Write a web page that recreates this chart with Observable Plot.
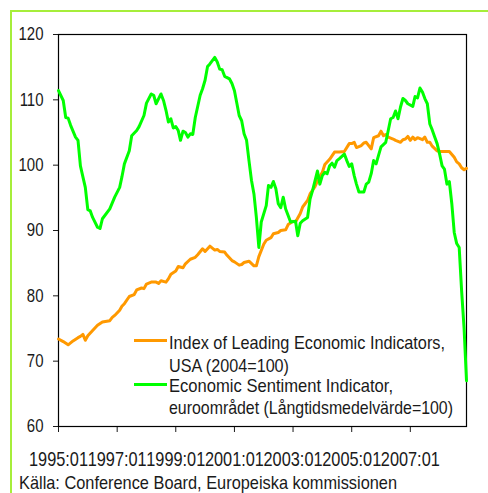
<!DOCTYPE html>
<html>
<head>
<meta charset="utf-8">
<script src="https://cdn.jsdelivr.net/npm/d3@7"></script>
<script src="https://cdn.jsdelivr.net/npm/@observablehq/plot@0.6"></script>
<style>
  html, body { margin: 0; padding: 0; background: #fff; width: 488px; height: 493px; overflow: hidden; }
  #wrap { position: relative; width: 488px; height: 493px; font-family: "Liberation Sans", Arial, sans-serif; color: #1a1a1a; }
  #border { position: absolute; left: 10px; top: 10px; width: 600px; height: 600px; border: 2px solid #a6ee3a; }
  #chart { position: absolute; left: 0; top: 0; }
  #legend { position: absolute; left: 0; top: 0; width: 488px; height: 470px; pointer-events: none; }
  .lg { position: absolute; font-size: 18.5px; white-space: nowrap; line-height: 20px; transform-origin: 0 50%; }
  .sw { position: absolute; height: 3px; width: 33px; }
  #caption { position: absolute; left: 19px; top: 472px; font-size: 18.5px; line-height: 21px; white-space: nowrap; transform-origin: 0 50%; }
</style>
</head>
<body>
<div id="wrap">
  <div id="border"></div>
  <div id="chart"></div>
  <div id="legend"></div>
  <div id="caption"></div>
</div>
<script>
// Index of Leading Economic Indicators, USA (2004=100)
const leiMonths = ["1995-01","1995-03","1995-05","1995-07","1995-09","1995-10","1995-11","1995-12","1996-01","1996-03","1996-05","1996-07","1996-10","1996-11","1996-12","1997-02","1997-03","1997-04","1997-06","1997-08","1997-09","1997-11","1997-12","1998-01","1998-03","1998-05","1998-06","1998-07","1998-09","1998-10","1998-11","1999-01","1999-02","1999-04","1999-05","1999-07","1999-09","1999-10","1999-12","2000-01","2000-03","2000-05","2000-06","2000-07","2000-09","2000-10","2000-12","2001-01","2001-03","2001-04","2001-05","2001-07","2001-09","2001-10","2001-11","2002-01","2002-02","2002-04","2002-05","2002-07","2002-08","2002-10","2002-11","2003-01","2003-02","2003-04","2003-05","2003-07","2003-08","2003-10","2003-11","2004-01","2004-02","2004-04","2004-06","2004-08","2004-10","2004-12","2005-01","2005-02","2005-03","2005-05","2005-06","2005-07","2005-09","2005-10","2005-12","2006-01","2006-02","2006-03","2006-04","2006-06","2006-07","2006-09","2006-10","2006-11","2006-12","2007-01","2007-02","2007-03","2007-04","2007-06","2007-07","2007-08","2007-09","2007-10","2007-12","2008-01","2008-05","2008-07","2008-08","2008-09","2008-10","2008-11","2008-12"];
const leiValues = [73.4,73.0,72.5,73.1,73.6,73.8,74.1,73.2,73.9,74.7,75.5,76.0,76.2,76.7,77.0,77.8,78.4,78.8,79.9,80.2,80.9,81.2,81.1,81.8,82.1,82.1,81.9,82.3,82.1,82.6,83.3,83.8,84.5,84.3,84.9,85.6,85.9,86.3,87.2,86.8,87.6,87.0,87.1,86.8,86.7,86.2,85.4,85.2,84.7,84.8,85.1,85.3,84.6,84.6,86.0,87.9,88.5,88.9,89.5,89.7,90.0,90.1,90.9,91.4,91.3,92.6,93.6,94.6,95.6,96.7,97.6,98.9,100.1,100.9,102.0,102.0,102.1,103.3,103.3,103.5,102.7,103.0,103.4,103.5,102.5,104.2,104.5,105.2,104.5,104.7,104.3,104.0,103.8,103.5,103.9,104.0,104.4,103.8,104.3,103.9,104.2,103.9,104.3,103.5,103.5,102.9,102.2,102.1,102.1,101.2,100.5,100.2,99.6,99.3,99.5];

// Economic Sentiment Indicator, euro area (long-term average = 100)
const esiMonths = ["1995-01","1995-03","1995-04","1995-05","1995-06","1995-08","1995-09","1995-10","1995-11","1995-12","1996-01","1996-02","1996-03","1996-05","1996-06","1996-07","1996-10","1996-12","1997-02","1997-03","1997-04","1997-06","1997-07","1997-09","1997-10","1997-12","1998-01","1998-03","1998-04","1998-05","1998-07","1998-08","1998-09","1998-10","1998-11","1998-12","1999-01","1999-02","1999-03","1999-04","1999-05","1999-06","1999-07","1999-08","1999-09","1999-11","1999-12","2000-01","2000-02","2000-03","2000-05","2000-06","2000-07","2000-08","2000-09","2000-11","2000-12","2001-01","2001-02","2001-03","2001-04","2001-05","2001-06","2001-07","2001-08","2001-09","2001-10","2001-11","2001-12","2002-02","2002-03","2002-04","2002-05","2002-06","2002-07","2002-08","2002-09","2002-10","2002-11","2002-12","2003-02","2003-03","2003-04","2003-05","2003-07","2003-08","2003-09","2003-11","2003-12","2004-01","2004-02","2004-03","2004-04","2004-05","2004-06","2004-07","2004-08","2004-10","2004-11","2004-12","2005-01","2005-02","2005-03","2005-04","2005-06","2005-07","2005-08","2005-09","2005-10","2005-11","2005-12","2006-01","2006-03","2006-04","2006-05","2006-06","2006-07","2006-08","2006-09","2006-10","2006-11","2006-12","2007-02","2007-03","2007-04","2007-05","2007-06","2007-07","2007-08","2007-09","2007-10","2007-11","2007-12","2008-01","2008-02","2008-03","2008-04","2008-05","2008-06","2008-07","2008-08","2008-09","2008-10","2008-11","2008-12"];
const esiValues = [111.4,109.9,107.3,107.2,106.1,104.3,103.8,99.9,98.2,96.6,93.2,93.0,92.0,90.5,90.3,91.8,93.3,95.1,96.6,98.2,100.2,102.2,104.5,105.3,105.9,107.6,109.5,110.9,110.7,109.4,110.9,109.9,108.4,106.6,107.1,105.7,105.9,105.3,103.8,105.2,105.0,104.3,104.8,104.7,107.3,110.7,111.7,113.0,115.1,115.5,116.5,115.8,114.7,114.6,113.6,113.2,112.5,111.4,109.4,107.6,106.8,104.8,103.8,100.7,97.7,95.6,92.0,87.4,91.3,93.8,96.9,96.6,97.5,96.4,94.1,93.5,95.1,93.3,92.3,91.3,91.4,89.2,91.1,91.5,92.0,94.8,96.1,99.1,97.1,98.4,98.9,98.7,99.9,100.3,99.7,100.7,101.0,101.7,100.7,99.8,100.2,98.4,97.1,95.9,95.9,97.1,97.4,98.7,100.7,100.2,101.5,102.8,103.5,105.3,107.1,107.3,108.3,107.1,108.9,110.2,109.9,109.4,109.0,110.5,110.3,111.8,111.2,110.2,109.4,106.3,105.4,104.3,103.3,101.7,99.9,99.4,97.1,97.5,94.1,89.7,88.0,87.4,80.8,75.0,67.0];

const xTickMonths = ["1995-01","1997-01","1999-01","2001-01","2003-01","2005-01","2007-01"];
const yTickValues = [60,70,80,90,100,110,120];
const seriesNames = ["Index of Leading Economic Indicators,\nUSA (2004=100)", "Economic Sentiment Indicator,\neuroområdet (Långtidsmedelvärde=100)"];
const seriesColors = ["#ff9900", "#00ff00"];
const captionText = "Källa: Conference Board, Europeiska kommissionen";

const parseMonth = d3.utcParse("%Y-%m");
const lei = leiMonths.map((m, i) => ({date: parseMonth(m), value: leiValues[i]}));
const esi = esiMonths.map((m, i) => ({date: parseMonth(m), value: esiValues[i]}));

const FONT = '"Liberation Sans", Arial, sans-serif';

const chart = Plot.plot({
  width: 488,
  height: 470,
  marginLeft: 58,
  marginRight: 22,
  marginTop: 34,
  marginBottom: 44,
  style: {fontFamily: FONT, fontSize: "18px", color: "#1a1a1a", background: "transparent", overflow: "visible"},
  x: {
    type: "utc",
    domain: [parseMonth("1995-01"), parseMonth("2008-12")],
    ticks: xTickMonths.map(parseMonth),
    tickFormat: d3.utcFormat("%Y:%m"),
    tickSize: 6,
    tickPadding: 19,
    label: null
  },
  y: {
    domain: [60, 120],
    ticks: yTickValues,
    tickSize: 5,
    tickPadding: 10,
    label: null
  },
  marks: [
    Plot.frame({stroke: "#000", strokeWidth: 1.2}),
    Plot.line(lei, {x: "date", y: "value", stroke: seriesColors[0], strokeWidth: 3, strokeLinejoin: "round"}),
    Plot.line(esi, {x: "date", y: "value", stroke: seriesColors[1], strokeWidth: 3, strokeLinejoin: "round"})
  ]
});
document.getElementById("chart").appendChild(chart);

// Condense the axis tick labels horizontally (the reference uses a narrow face)
(function condenseAxisText() {
  const texts = Array.from(chart.querySelectorAll("text"));
  const xs = [], ys = [];
  texts.forEach(t => {
    const r = t.getBoundingClientRect();
    if (r.top > 440) { xs.push(t); t.style.fontSize = "20px"; } else ys.push(t);
  });
  function fit(group, sampleText, targetWidth) {
    const sample = group.find(t => t.textContent === sampleText) || group[0];
    if (!sample) return;
    const k = targetWidth / sample.getBBox().width;
    group.forEach(t => {
      const bb = t.getBBox();
      const anchor = getComputedStyle(t).textAnchor || "start";
      const ax = anchor === "end" ? bb.x + bb.width : anchor === "middle" ? bb.x + bb.width / 2 : bb.x;
      const prev = t.getAttribute("transform") || "";
      t.setAttribute("transform", `${prev} translate(${ax},0) scale(${k},1) translate(${-ax},0)`);
    });
  }
  fit(xs, "1995:01", 59);
  fit(ys, "120", 25);
})();

// legend
const legend = document.getElementById("legend");
const swatchY = [340, 384];
const textTops = [[333, 356], [376, 398]];
const textWidths = [[276, 120], [224, 284]];
seriesNames.forEach((name, i) => {
  const sw = document.createElement("div");
  sw.className = "sw";
  sw.style.left = "134px";
  sw.style.top = (swatchY[i] - 1.5) + "px";
  sw.style.background = seriesColors[i];
  legend.appendChild(sw);
  name.split("\n").forEach((line, j) => {
    const t = document.createElement("div");
    t.className = "lg";
    t.style.left = "169px";
    t.style.top = textTops[i][j] + "px";
    t.textContent = line;
    legend.appendChild(t);
    const w = t.getBoundingClientRect().width;
    t.style.transform = `scaleX(${textWidths[i][j] / w})`;
  });
});
const cap = document.getElementById("caption");
cap.textContent = captionText;
cap.style.transform = `scaleX(${378 / cap.getBoundingClientRect().width})`;
</script>
</body>
</html>
